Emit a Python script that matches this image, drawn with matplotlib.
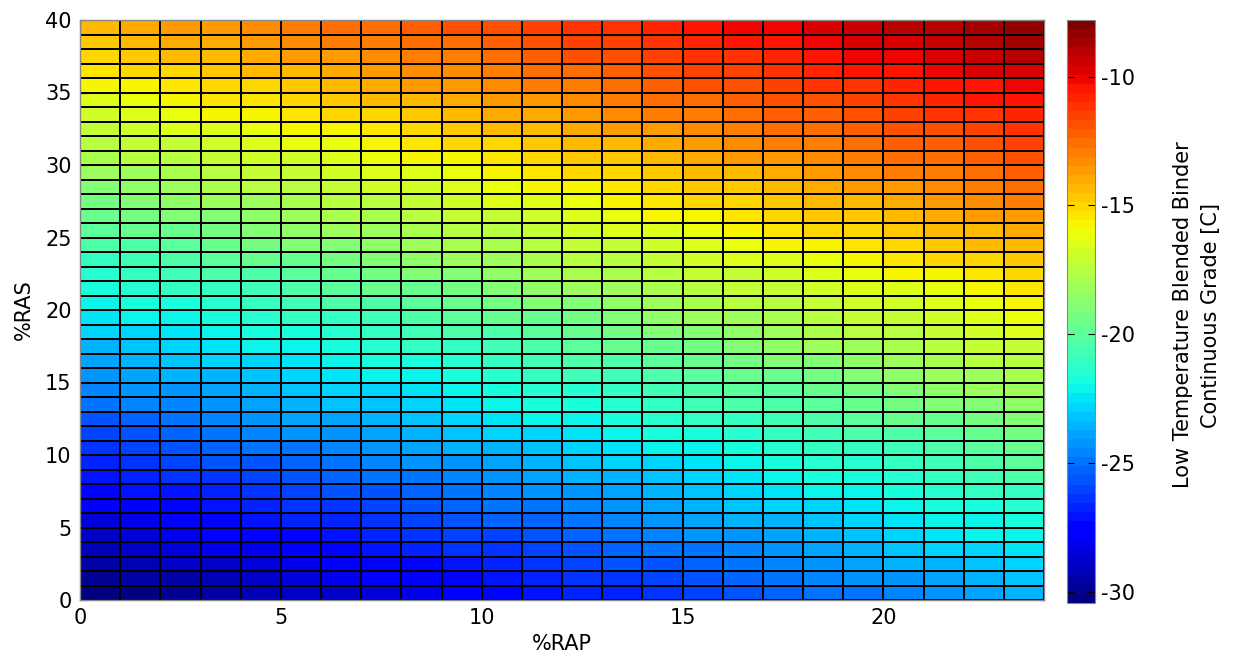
import numpy as np
import matplotlib
matplotlib.use("Agg")
import matplotlib.pyplot as plt

# grid edges: %RAP (columns) and %RAS (rows)
rap = list(range(0, 25))
ras = list(range(0, 41))

# low temperature blended binder continuous grade [C], one row per %RAS step (row 0 = 0% RAS)
grade = [
    [-30.4, -30.1, -29.8, -29.5, -29.3, -29.0, -28.7, -28.4, -28.1, -27.8, -27.5, -27.2, -26.9, -26.6, -26.3, -26.0, -25.7, -25.4, -25.1, -24.8, -24.5, -24.2, -23.9, -23.6],
    [-30.0, -29.7, -29.4, -29.1, -28.8, -28.5, -28.2, -27.9, -27.7, -27.4, -27.1, -26.8, -26.5, -26.2, -25.9, -25.6, -25.3, -25.0, -24.7, -24.4, -24.1, -23.8, -23.5, -23.2],
    [-29.6, -29.3, -29.0, -28.7, -28.4, -28.1, -27.8, -27.5, -27.3, -27.0, -26.7, -26.4, -26.1, -25.8, -25.5, -25.2, -24.9, -24.6, -24.3, -24.0, -23.7, -23.4, -23.1, -22.8],
    [-29.2, -28.9, -28.6, -28.3, -28.0, -27.7, -27.4, -27.1, -26.8, -26.5, -26.3, -26.0, -25.7, -25.4, -25.1, -24.8, -24.5, -24.2, -23.9, -23.6, -23.3, -23.0, -22.7, -22.4],
    [-28.8, -28.5, -28.2, -27.9, -27.6, -27.3, -27.0, -26.7, -26.4, -26.1, -25.9, -25.6, -25.3, -25.0, -24.7, -24.4, -24.1, -23.8, -23.5, -23.2, -22.9, -22.6, -22.3, -22.1],
    [-28.4, -28.1, -27.8, -27.5, -27.2, -26.9, -26.6, -26.3, -26.0, -25.7, -25.4, -25.2, -24.9, -24.6, -24.3, -24.0, -23.7, -23.4, -23.1, -22.8, -22.5, -22.2, -22.0, -21.7],
    [-27.9, -27.7, -27.4, -27.1, -26.8, -26.5, -26.2, -25.9, -25.6, -25.3, -25.0, -24.8, -24.5, -24.2, -23.9, -23.6, -23.3, -23.0, -22.7, -22.4, -22.1, -21.9, -21.6, -21.3],
    [-27.5, -27.2, -27.0, -26.7, -26.4, -26.1, -25.8, -25.5, -25.2, -24.9, -24.6, -24.4, -24.1, -23.8, -23.5, -23.2, -22.9, -22.6, -22.3, -22.0, -21.8, -21.5, -21.2, -20.9],
    [-27.1, -26.8, -26.5, -26.2, -26.0, -25.7, -25.4, -25.1, -24.8, -24.5, -24.2, -23.9, -23.7, -23.4, -23.1, -22.8, -22.5, -22.2, -21.9, -21.6, -21.4, -21.1, -20.8, -20.5],
    [-26.7, -26.4, -26.1, -25.8, -25.6, -25.3, -25.0, -24.7, -24.4, -24.1, -23.8, -23.5, -23.3, -23.0, -22.7, -22.4, -22.1, -21.8, -21.5, -21.3, -21.0, -20.7, -20.4, -20.1],
    [-26.3, -26.0, -25.7, -25.4, -25.1, -24.9, -24.6, -24.3, -24.0, -23.7, -23.4, -23.1, -22.9, -22.6, -22.3, -22.0, -21.7, -21.4, -21.1, -20.9, -20.6, -20.3, -20.0, -19.7],
    [-25.9, -25.6, -25.3, -25.0, -24.7, -24.4, -24.2, -23.9, -23.6, -23.3, -23.0, -22.7, -22.5, -22.2, -21.9, -21.6, -21.3, -21.0, -20.7, -20.5, -20.2, -19.9, -19.6, -19.3],
    [-25.5, -25.2, -24.9, -24.6, -24.3, -24.0, -23.8, -23.5, -23.2, -22.9, -22.6, -22.3, -22.1, -21.8, -21.5, -21.2, -20.9, -20.6, -20.4, -20.1, -19.8, -19.5, -19.2, -18.9],
    [-25.0, -24.7, -24.5, -24.2, -23.9, -23.6, -23.3, -23.1, -22.8, -22.5, -22.2, -21.9, -21.7, -21.4, -21.1, -20.8, -20.5, -20.2, -20.0, -19.7, -19.4, -19.1, -18.8, -18.6],
    [-24.6, -24.3, -24.1, -23.8, -23.5, -23.2, -22.9, -22.7, -22.4, -22.1, -21.8, -21.5, -21.3, -21.0, -20.7, -20.4, -20.1, -19.9, -19.6, -19.3, -19.0, -18.7, -18.4, -18.2],
    [-24.2, -23.9, -23.6, -23.4, -23.1, -22.8, -22.5, -22.2, -22.0, -21.7, -21.4, -21.1, -20.8, -20.6, -20.3, -20.0, -19.7, -19.5, -19.2, -18.9, -18.6, -18.3, -18.1, -17.8],
    [-23.8, -23.5, -23.2, -22.9, -22.7, -22.4, -22.1, -21.8, -21.6, -21.3, -21.0, -20.7, -20.4, -20.2, -19.9, -19.6, -19.3, -19.1, -18.8, -18.5, -18.2, -17.9, -17.7, -17.4],
    [-23.4, -23.1, -22.8, -22.5, -22.3, -22.0, -21.7, -21.4, -21.2, -20.9, -20.6, -20.3, -20.0, -19.8, -19.5, -19.2, -18.9, -18.7, -18.4, -18.1, -17.8, -17.6, -17.3, -17.0],
    [-23.0, -22.7, -22.4, -22.1, -21.8, -21.6, -21.3, -21.0, -20.7, -20.5, -20.2, -19.9, -19.6, -19.4, -19.1, -18.8, -18.5, -18.3, -18.0, -17.7, -17.4, -17.2, -16.9, -16.6],
    [-22.5, -22.3, -22.0, -21.7, -21.4, -21.2, -20.9, -20.6, -20.3, -20.1, -19.8, -19.5, -19.2, -19.0, -18.7, -18.4, -18.1, -17.9, -17.6, -17.3, -17.0, -16.8, -16.5, -16.2],
    [-22.1, -21.8, -21.6, -21.3, -21.0, -20.8, -20.5, -20.2, -19.9, -19.7, -19.4, -19.1, -18.8, -18.6, -18.3, -18.0, -17.7, -17.5, -17.2, -16.9, -16.7, -16.4, -16.1, -15.8],
    [-21.7, -21.4, -21.2, -20.9, -20.6, -20.3, -20.1, -19.8, -19.5, -19.3, -19.0, -18.7, -18.4, -18.2, -17.9, -17.6, -17.3, -17.1, -16.8, -16.5, -16.3, -16.0, -15.7, -15.4],
    [-21.3, -21.0, -20.7, -20.5, -20.2, -19.9, -19.7, -19.4, -19.1, -18.9, -18.6, -18.3, -18.0, -17.8, -17.5, -17.2, -17.0, -16.7, -16.4, -16.1, -15.9, -15.6, -15.3, -15.1],
    [-20.9, -20.6, -20.3, -20.1, -19.8, -19.5, -19.3, -19.0, -18.7, -18.4, -18.2, -17.9, -17.6, -17.4, -17.1, -16.8, -16.6, -16.3, -16.0, -15.7, -15.5, -15.2, -14.9, -14.7],
    [-20.5, -20.2, -19.9, -19.7, -19.4, -19.1, -18.8, -18.6, -18.3, -18.0, -17.8, -17.5, -17.2, -17.0, -16.7, -16.4, -16.2, -15.9, -15.6, -15.4, -15.1, -14.8, -14.5, -14.3],
    [-20.0, -19.8, -19.5, -19.2, -19.0, -18.7, -18.4, -18.2, -17.9, -17.6, -17.4, -17.1, -16.8, -16.6, -16.3, -16.0, -15.8, -15.5, -15.2, -15.0, -14.7, -14.4, -14.2, -13.9],
    [-19.6, -19.4, -19.1, -18.8, -18.6, -18.3, -18.0, -17.8, -17.5, -17.2, -17.0, -16.7, -16.4, -16.2, -15.9, -15.6, -15.4, -15.1, -14.8, -14.6, -14.3, -14.0, -13.8, -13.5],
    [-19.2, -18.9, -18.7, -18.4, -18.2, -17.9, -17.6, -17.4, -17.1, -16.8, -16.6, -16.3, -16.0, -15.8, -15.5, -15.2, -15.0, -14.7, -14.4, -14.2, -13.9, -13.6, -13.4, -13.1],
    [-18.8, -18.5, -18.3, -18.0, -17.7, -17.5, -17.2, -16.9, -16.7, -16.4, -16.2, -15.9, -15.6, -15.4, -15.1, -14.8, -14.6, -14.3, -14.0, -13.8, -13.5, -13.2, -13.0, -12.7],
    [-18.4, -18.1, -17.9, -17.6, -17.3, -17.1, -16.8, -16.5, -16.3, -16.0, -15.8, -15.5, -15.2, -15.0, -14.7, -14.4, -14.2, -13.9, -13.7, -13.4, -13.1, -12.9, -12.6, -12.3],
    [-18.0, -17.7, -17.4, -17.2, -16.9, -16.7, -16.4, -16.1, -15.9, -15.6, -15.3, -15.1, -14.8, -14.6, -14.3, -14.0, -13.8, -13.5, -13.3, -13.0, -12.7, -12.5, -12.2, -11.9],
    [-17.5, -17.3, -17.0, -16.8, -16.5, -16.2, -16.0, -15.7, -15.5, -15.2, -14.9, -14.7, -14.4, -14.2, -13.9, -13.6, -13.4, -13.1, -12.9, -12.6, -12.3, -12.1, -11.8, -11.6],
    [-17.1, -16.9, -16.6, -16.4, -16.1, -15.8, -15.6, -15.3, -15.1, -14.8, -14.5, -14.3, -14.0, -13.8, -13.5, -13.2, -13.0, -12.7, -12.5, -12.2, -11.9, -11.7, -11.4, -11.2],
    [-16.7, -16.5, -16.2, -15.9, -15.7, -15.4, -15.2, -14.9, -14.6, -14.4, -14.1, -13.9, -13.6, -13.4, -13.1, -12.8, -12.6, -12.3, -12.1, -11.8, -11.5, -11.3, -11.0, -10.8],
    [-16.3, -16.0, -15.8, -15.5, -15.3, -15.0, -14.8, -14.5, -14.2, -14.0, -13.7, -13.5, -13.2, -13.0, -12.7, -12.4, -12.2, -11.9, -11.7, -11.4, -11.2, -10.9, -10.6, -10.4],
    [-15.9, -15.6, -15.4, -15.1, -14.9, -14.6, -14.3, -14.1, -13.8, -13.6, -13.3, -13.1, -12.8, -12.6, -12.3, -12.0, -11.8, -11.5, -11.3, -11.0, -10.8, -10.5, -10.3, -10.0],
    [-15.5, -15.2, -15.0, -14.7, -14.4, -14.2, -13.9, -13.7, -13.4, -13.2, -12.9, -12.7, -12.4, -12.2, -11.9, -11.6, -11.4, -11.1, -10.9, -10.6, -10.4, -10.1, -9.9, -9.6],
    [-15.1, -14.8, -14.5, -14.3, -14.0, -13.8, -13.5, -13.3, -13.0, -12.8, -12.5, -12.3, -12.0, -11.8, -11.5, -11.3, -11.0, -10.7, -10.5, -10.2, -10.0, -9.7, -9.5, -9.2],
    [-14.6, -14.4, -14.1, -13.9, -13.6, -13.4, -13.1, -12.9, -12.6, -12.4, -12.1, -11.9, -11.6, -11.4, -11.1, -10.8, -10.6, -10.3, -10.1, -9.8, -9.6, -9.3, -9.1, -8.8],
    [-14.2, -14.0, -13.7, -13.5, -13.2, -13.0, -12.7, -12.5, -12.2, -12.0, -11.7, -11.5, -11.2, -11.0, -10.7, -10.5, -10.2, -10.0, -9.7, -9.5, -9.2, -8.9, -8.7, -8.4],
]

# colour limits
grade_min = -30.44
grade_max = -7.80

xticks = [0, 5, 10, 15, 20]
yticks = [0, 5, 10, 15, 20, 25, 30, 35, 40]
cbar_ticks = [-30, -25, -20, -15, -10]

plt.rcParams['font.family'] = ['DejaVu Sans']
plt.rcParams['axes.unicode_minus'] = False

W, H = 1239, 659
fig = plt.figure(figsize=(W / 100, H / 100), dpi=100)
ax = fig.add_axes([80 / W, (H - 600) / H, 964 / W, 580 / H])

cmap = plt.get_cmap('jet', 64)
mesh = ax.pcolormesh(rap, ras, np.array(grade), cmap=cmap, vmin=grade_min, vmax=grade_max,
                     shading='flat', edgecolors='k', linewidth=1.3)

ax.set_xlim(0, 24)
ax.set_ylim(0, 40)
ax.set_xticks(xticks)
ax.set_yticks(yticks)
ax.tick_params(direction='in', length=5, labelsize=15, pad=6, top=True, right=True)
for s in ax.spines.values():
    s.set_color('#888888')
    s.set_linewidth(1.0)

ax.set_xlabel('%RAP', fontsize=15, labelpad=4)
ax.set_ylabel('%RAS', fontsize=15, labelpad=8)

cax = fig.add_axes([1067 / W, (H - 603) / H, 28 / W, 583 / H])
cb = fig.colorbar(mesh, cax=cax, ticks=cbar_ticks)
cb.outline.set_edgecolor('#888888')
cax.tick_params(direction='in', length=5, labelsize=15, left=True, right=True, pad=4)

fig.text(1197 / W, 1 - 315 / H, 'Low Temperature Blended Binder\nContinuous Grade [C]',
         rotation=90, ha='center', va='center', multialignment='center', fontsize=15,
         linespacing=1.5)

fig.savefig('out.png', dpi=100)
